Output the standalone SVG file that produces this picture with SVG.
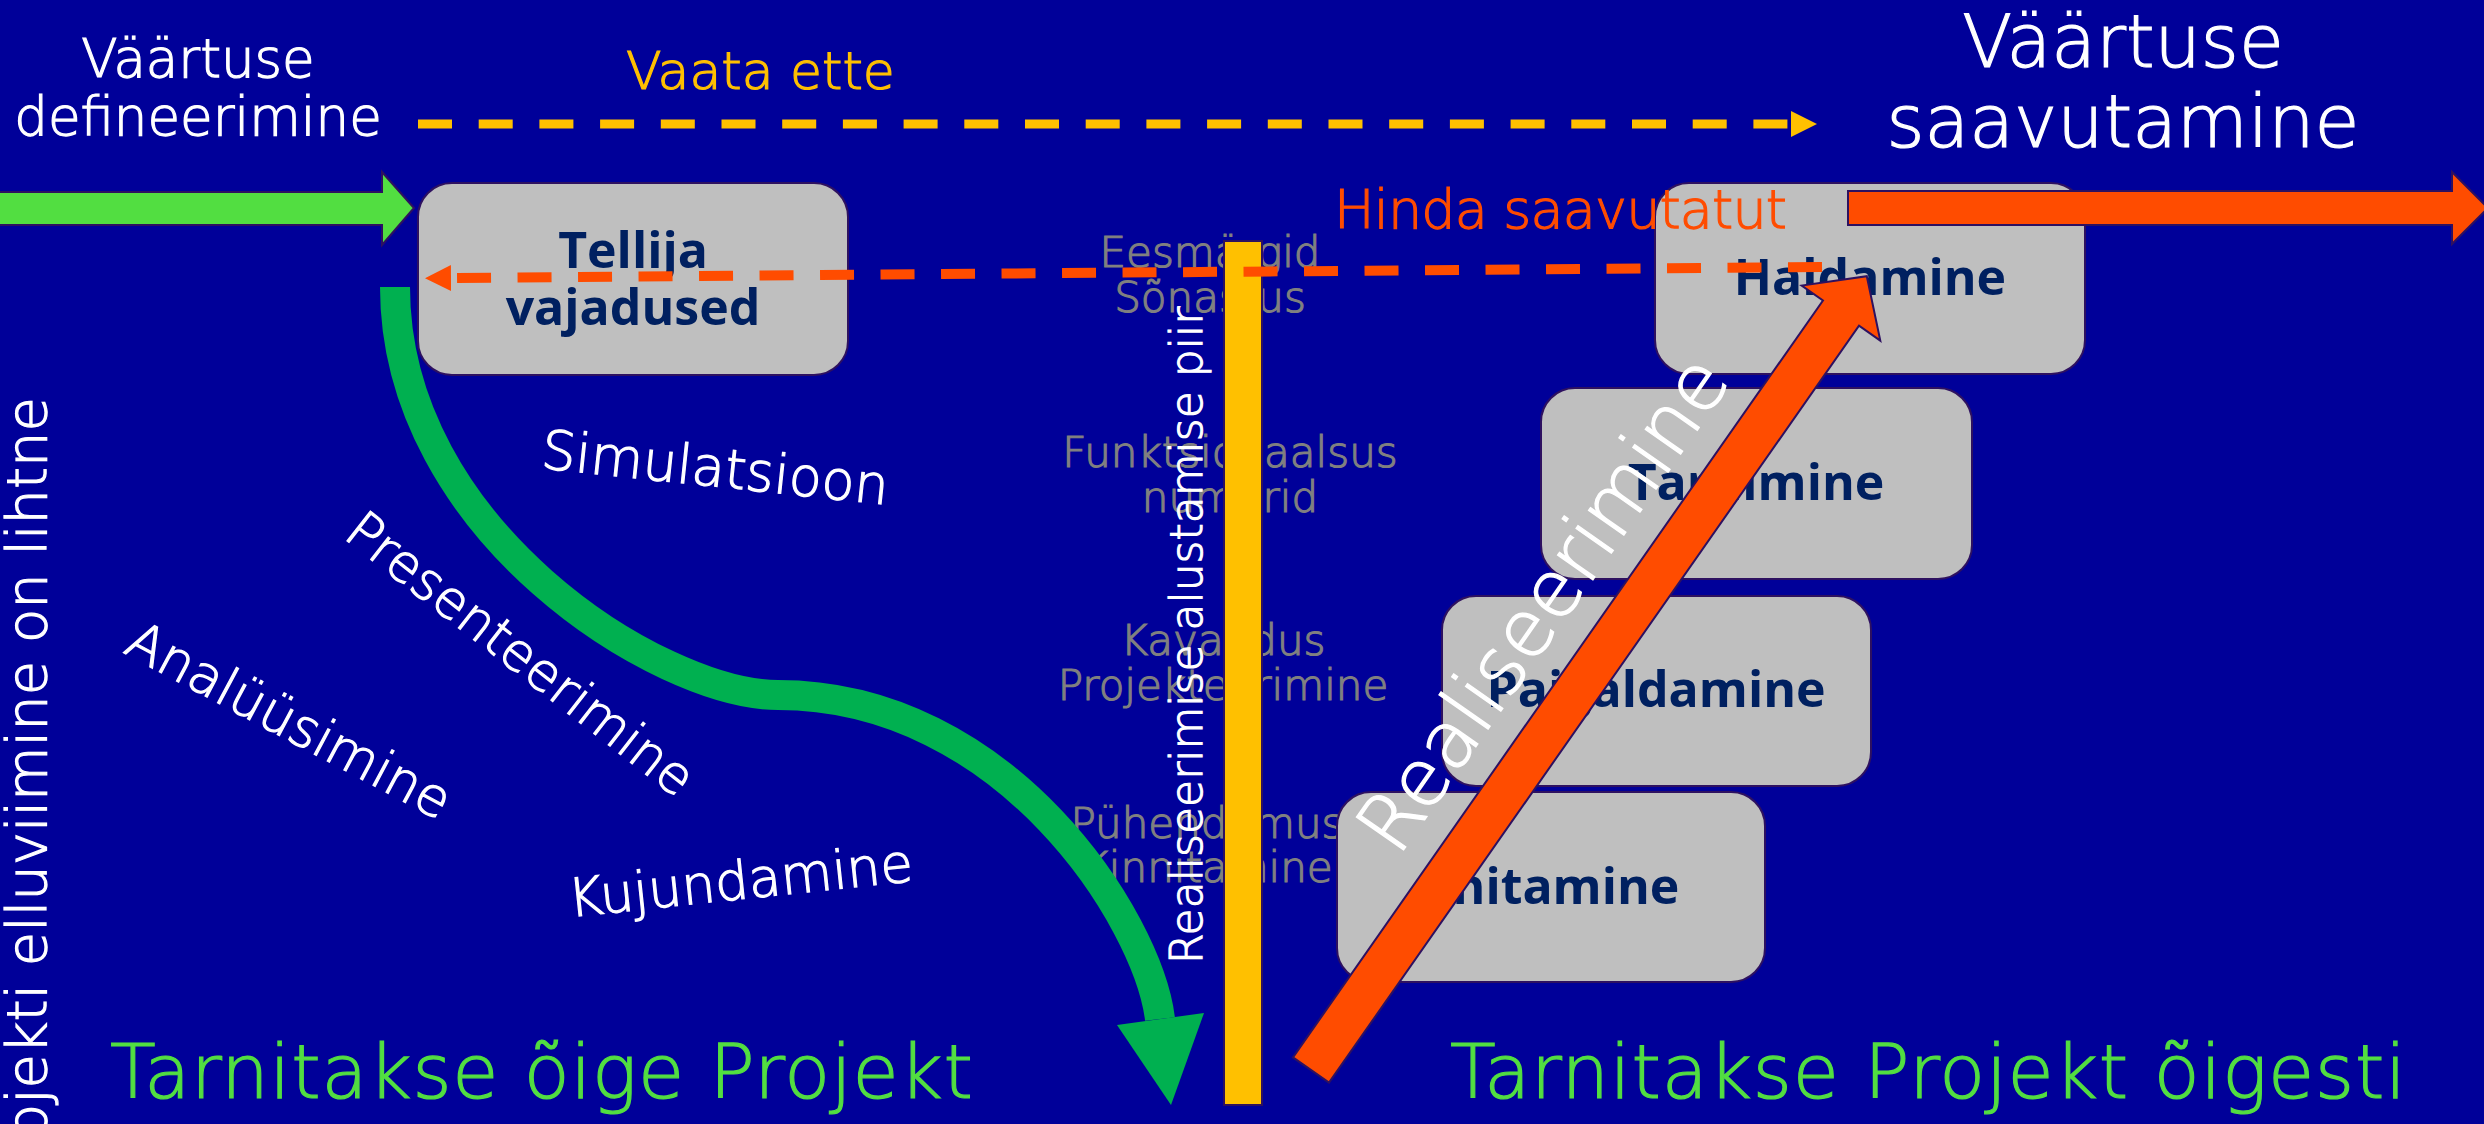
<svg xmlns="http://www.w3.org/2000/svg" width="2484" height="1124" viewBox="0 0 2484 1124">
  <defs>
    <style>
      .lt { font-family: "DejaVu Sans", "Liberation Sans", sans-serif; font-weight: 200; stroke-width: 1.2; }
      .white { fill: #FFFFFF; stroke: #FFFFFF; }
      .gray { fill: #808080; stroke: #808080; font-size: 42px; text-anchor: middle; }
      .yel { fill: #FFC000; stroke: #FFC000; }
      .org { fill: #FF4C00; stroke: #FF4C00; }
      .big { fill: #52DE41; stroke: #52DE41; font-size: 75px; }
      .node rect { fill: #BFBFBF; stroke: #2E1160; stroke-width: 2; }
      .node text { font-family: "Open Sans", "Noto Sans", "Liberation Sans", sans-serif; font-weight: 700; font-size: 50px; fill: #002060; text-anchor: middle; }
      .outline { stroke: #2E1160; stroke-width: 2; stroke-linejoin: miter; }
    </style>
    <marker id="headYellow" markerUnits="userSpaceOnUse" viewBox="0 0 26 26" markerWidth="26" markerHeight="26" refX="0" refY="13" orient="auto">
      <path d="M0,0 L26,13 L0,26 Z" fill="#FFC000"/>
    </marker>
    <marker id="headOrange" markerUnits="userSpaceOnUse" viewBox="0 0 26 26" markerWidth="26" markerHeight="26" refX="0" refY="13" orient="auto">
      <path d="M0,0 L26,13 L0,26 Z" fill="#FF4C00"/>
    </marker>
  </defs>

  <!-- background -->
  <rect x="0" y="0" width="2484" height="1124" fill="#000099"/>

  <!-- phase notes beside the boundary -->
  <g id="phase-notes" class="lt gray">
    <text x="1210" y="267">Eesmärgid</text>
    <text x="1210" y="312">Sõnastus</text>
    <text x="1230" y="467">Funktsionaalsus</text>
    <text x="1230" y="512">numbrid</text>
    <text x="1223" y="655">Kavandus</text>
    <text x="1223" y="700">Projekteerimine</text>
    <text x="1207" y="838">Pühendumus</text>
    <text x="1207" y="882">Kinnitamine</text>
  </g>

  <!-- process nodes -->
  <g id="node-tellija" class="node">
    <rect x="418" y="183" width="430" height="192" rx="34"/>
    <text x="633" y="268">Tellija</text>
    <text x="633" y="325">vajadused</text>
  </g>
  <g id="node-haldamine" class="node">
    <rect x="1655" y="183" width="430" height="191" rx="34"/>
    <text x="1870" y="295">Haldamine</text>
  </g>
  <g id="node-tarnimine" class="node">
    <rect x="1541" y="388" width="431" height="191" rx="34"/>
    <text x="1756" y="500">Tarnimine</text>
  </g>
  <g id="node-paigaldamine" class="node">
    <rect x="1442" y="596" width="429" height="190" rx="34"/>
    <text x="1656" y="707">Paigaldamine</text>
  </g>
  <g id="node-ehitamine" class="node">
    <rect x="1337" y="792" width="428" height="190" rx="34"/>
    <text x="1552" y="904">Ehitamine</text>
  </g>

  <!-- start-of-realisation boundary -->
  <g id="boundary">
    <rect x="1224" y="241" width="38" height="864" fill="#FFC000" class="outline"/>
    <text class="lt white" font-size="44" transform="translate(1202,964) rotate(-90)">Realiseerimise alustamise piir</text>
  </g>

  <!-- free labels -->
  <g id="labels" class="lt">
    <text class="white" font-size="53" text-anchor="middle" x="198" y="77">Väärtuse</text>
    <text class="white" font-size="53" text-anchor="middle" x="198" y="135">defineerimine</text>
    <text class="white" font-size="73" text-anchor="middle" x="2123" y="67">Väärtuse</text>
    <text class="white" font-size="73" text-anchor="middle" x="2123" y="147">saavutamine</text>
    <text class="yel" font-size="52" x="626" y="89">Vaata ette</text>
    <text class="org" font-size="54" x="1334" y="228" textLength="453" lengthAdjust="spacing">Hinda saavutatut</text>
    <text class="white" font-size="56" text-anchor="end" transform="translate(46,397) rotate(-90)">Projekti elluviimine on lihtne</text>
    <text class="white" font-size="54" transform="translate(540,468) rotate(6)">Simulatsioon</text>
    <text class="white" font-size="52" transform="translate(342,537) rotate(38)">Presenteerimine</text>
    <text class="white" font-size="53" transform="translate(122,652) rotate(28)">Analüüsimine</text>
    <text class="white" font-size="53" transform="translate(570,917) rotate(-6)">Kujundamine</text>
    <text class="big" x="110" y="1098" textLength="863" lengthAdjust="spacing">Tarnitakse õige Projekt</text>
    <text class="big" x="1450" y="1098" textLength="956" lengthAdjust="spacing">Tarnitakse Projekt õigesti</text>
  </g>

  <!-- connectors -->
  <g id="connectors">
    <!-- design path: curved green arrow -->
    <path d="M395,287 C395,530 660,695 778,695 C1006,695 1148,920 1160,1019" fill="none" stroke="#00B050" stroke-width="30"/>
    <polygon points="1117,1025 1204,1013 1171,1105" fill="#00B050"/>

    <!-- value definition input -->
    <polygon points="-5,192 382,192 382,172 414,208 382,245 382,225 -5,225" fill="#52DE41" class="outline"/>

    <!-- look ahead -->
    <path d="M418,124 L1791,124" fill="none" stroke="#FFC000" stroke-width="9" stroke-dasharray="34 26.7" marker-end="url(#headYellow)"/>

    <!-- evaluate achievements -->
    <path d="M1822,267 L451,278" fill="none" stroke="#FF4C00" stroke-width="10" stroke-dasharray="34 26.5" marker-end="url(#headOrange)"/>

    <!-- value achieved output -->
    <polygon points="1848,191 2452,191 2452,172 2488,208 2452,244 2452,225 1848,225" fill="#FF4C00" class="outline"/>

    <!-- realisation arrow -->
    <polygon transform="translate(1311,1070) rotate(-55)" points="0,-22 924,-22 924,-48 969,0 924,48 924,22 0,22" fill="#FF4C00" class="outline"/>
  </g>

  <text class="lt white" font-size="79" transform="translate(1398,858) rotate(-55)">Realiseerimine</text>
</svg>
